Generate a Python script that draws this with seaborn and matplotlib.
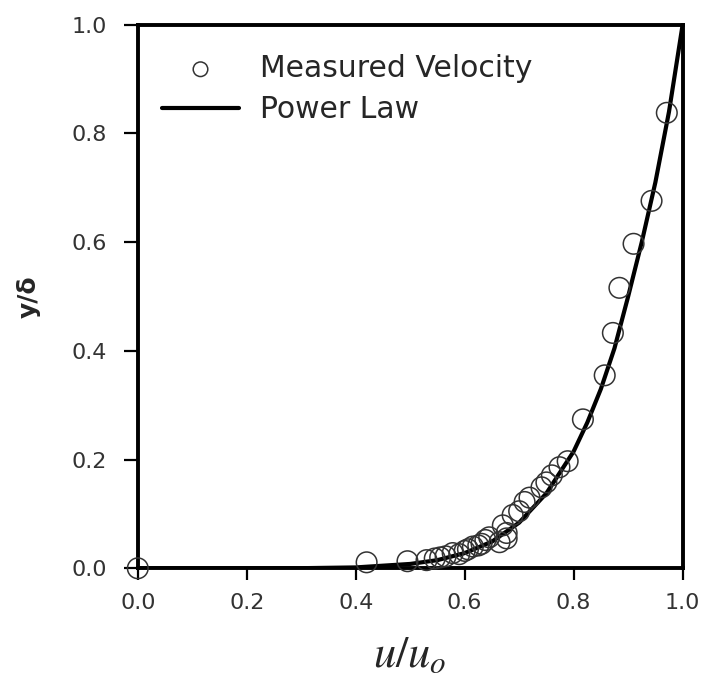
import matplotlib
matplotlib.use("Agg")
import matplotlib.pyplot as plt
import seaborn as sns
import pandas as pd

# measured velocity profile
u_meas = [0.0, 0.42, 0.495, 0.53, 0.545, 0.555, 0.565, 0.578, 0.59, 0.60,
          0.606, 0.615, 0.625, 0.631, 0.638, 0.645, 0.664, 0.670, 0.677, 0.677,
          0.688, 0.70, 0.71, 0.719, 0.741, 0.75, 0.76, 0.774, 0.789, 0.817,
          0.857, 0.872, 0.884, 0.91, 0.943, 0.971]
y_meas = [0.0, 0.011, 0.013, 0.015, 0.018, 0.020, 0.022, 0.028, 0.026, 0.032,
          0.035, 0.040, 0.042, 0.045, 0.052, 0.057, 0.048, 0.079, 0.065, 0.055,
          0.098, 0.105, 0.122, 0.130, 0.149, 0.158, 0.171, 0.186, 0.197, 0.274,
          0.355, 0.433, 0.516, 0.597, 0.676, 0.838]

# power law curve
u_fit = [0.0, 0.2, 0.3, 0.4, 0.5, 0.55, 0.6, 0.65, 0.7, 0.75, 0.8, 0.825,
         0.85, 0.875, 0.9, 0.925, 0.95, 0.975, 1.0]
y_fit = [0.0, 0.00001, 0.0002, 0.0016, 0.008, 0.015, 0.028, 0.049, 0.084, 0.138,
         0.215, 0.268, 0.330, 0.405, 0.500, 0.600, 0.710, 0.840, 1.0]

df_meas = pd.DataFrame({'u': u_meas, 'y': y_meas})
df_fit = pd.DataFrame({'u': u_fit, 'y': y_fit})

sns.set_style('ticks')
plt.rcParams['font.family'] = ['DejaVu Sans']
plt.rcParams['mathtext.fontset'] = 'stix'

fig = plt.figure(figsize=(7.03, 6.88), dpi=100)
ax = fig.add_axes([0.196, 0.174, 0.775, 0.79])

sns.scatterplot(data=df_meas, x='u', y='y', ax=ax, marker='o', s=220,
                facecolor='none', edgecolor='#333333', linewidth=1.1,
                label='Measured Velocity', zorder=3, clip_on=False)
sns.lineplot(data=df_fit, x='u', y='y', ax=ax, color='black', linewidth=3.0,
             label='Power Law', zorder=2)

ax.set_xlim(0, 1)
ax.set_ylim(0, 1)
ax.set_xticks([0.0, 0.2, 0.4, 0.6, 0.8, 1.0])
ax.set_yticks([0.0, 0.2, 0.4, 0.6, 0.8, 1.0])
ax.xaxis.set_major_formatter(matplotlib.ticker.FormatStrFormatter('%.1f'))
ax.yaxis.set_major_formatter(matplotlib.ticker.FormatStrFormatter('%.1f'))
ax.tick_params(direction='out', width=1.6, labelsize=16,
               colors='black', labelcolor='#333333')
ax.tick_params(axis='y', length=10, pad=12)
ax.tick_params(axis='x', length=8.5, pad=9)

for sp in ax.spines.values():
    sp.set_linewidth(2.8)
    sp.set_color('black')

ax.set_xlabel(r'$u/u_o$', fontsize=32, labelpad=15)
ax.set_ylabel('y/δ', fontsize=18, fontweight='bold', labelpad=22)

leg = ax.legend(loc='upper left', frameon=False, fontsize=21.5,
                bbox_to_anchor=(0.0, 0.99), handlelength=2.6, handletextpad=0.7,
                borderaxespad=0.4, labelspacing=0.4)
for h in leg.legend_handles:
    if hasattr(h, 'set_sizes'):
        h.set_sizes([110])

fig.savefig('out.png', dpi=100)
